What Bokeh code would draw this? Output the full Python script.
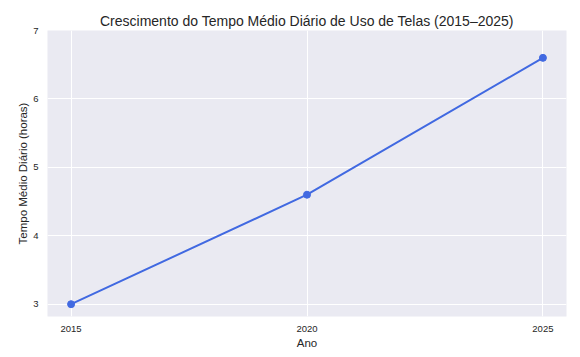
from bokeh.plotting import figure
from bokeh.models import FixedTicker, Range1d
from bokeh.embed import file_html
from bokeh.resources import INLINE

anos = [2015, 2020, 2025]
horas = [3.0, 4.6, 6.6]
x_ticks = [2015, 2020, 2025]
y_ticks = [3, 4, 5, 6, 7]

FONT = "Liberation Sans"

p = figure(width=580, height=357, output_backend="svg", toolbar_location=None,
           x_range=Range1d(2014.5, 2025.5), y_range=Range1d(2.82, 7.0),
           min_border_left=47, min_border_right=14, min_border_top=30, min_border_bottom=41,
           background_fill_color="#EAEAF2", border_fill_color="white",
           title="Crescimento do Tempo Médio Diário de Uso de Telas (2015–2025)")

p.outline_line_color = None
p.title.align = "center"
p.title.text_font = FONT
p.title.text_font_size = "14px"
p.title.text_font_style = "normal"
p.title.text_color = "#262626"
p.title.offset = 0
p.title.standoff = 4

p.line(anos, horas, line_color="#4169E1", line_width=2)
p.scatter(anos, horas, size=7, fill_color="#4169E1", line_color="#4169E1")

for ax in (p.xaxis[0], p.yaxis[0]):
    ax.axis_line_color = None
    ax.major_tick_line_color = None
    ax.minor_tick_line_color = None
    ax.major_label_text_font = FONT
    ax.major_label_text_font_size = "9.5px"
    ax.major_label_text_color = "#262626"
    ax.axis_label_text_font = FONT
    ax.axis_label_text_font_size = "11.5px"
    ax.axis_label_text_font_style = "normal"
    ax.axis_label_text_color = "#262626"

p.xaxis.ticker = FixedTicker(ticks=x_ticks)
p.yaxis.ticker = FixedTicker(ticks=y_ticks)
p.xaxis.axis_label = "Ano"
p.yaxis.axis_label = "Tempo Médio Diário (horas)"
p.xaxis.major_label_standoff = 3
p.yaxis.major_label_standoff = 3
p.xaxis.axis_label_standoff = 2
p.yaxis.axis_label_standoff = 1

p.grid.grid_line_color = "white"
p.grid.grid_line_width = 1

open("out.html", "w").write(file_html(p, INLINE))
